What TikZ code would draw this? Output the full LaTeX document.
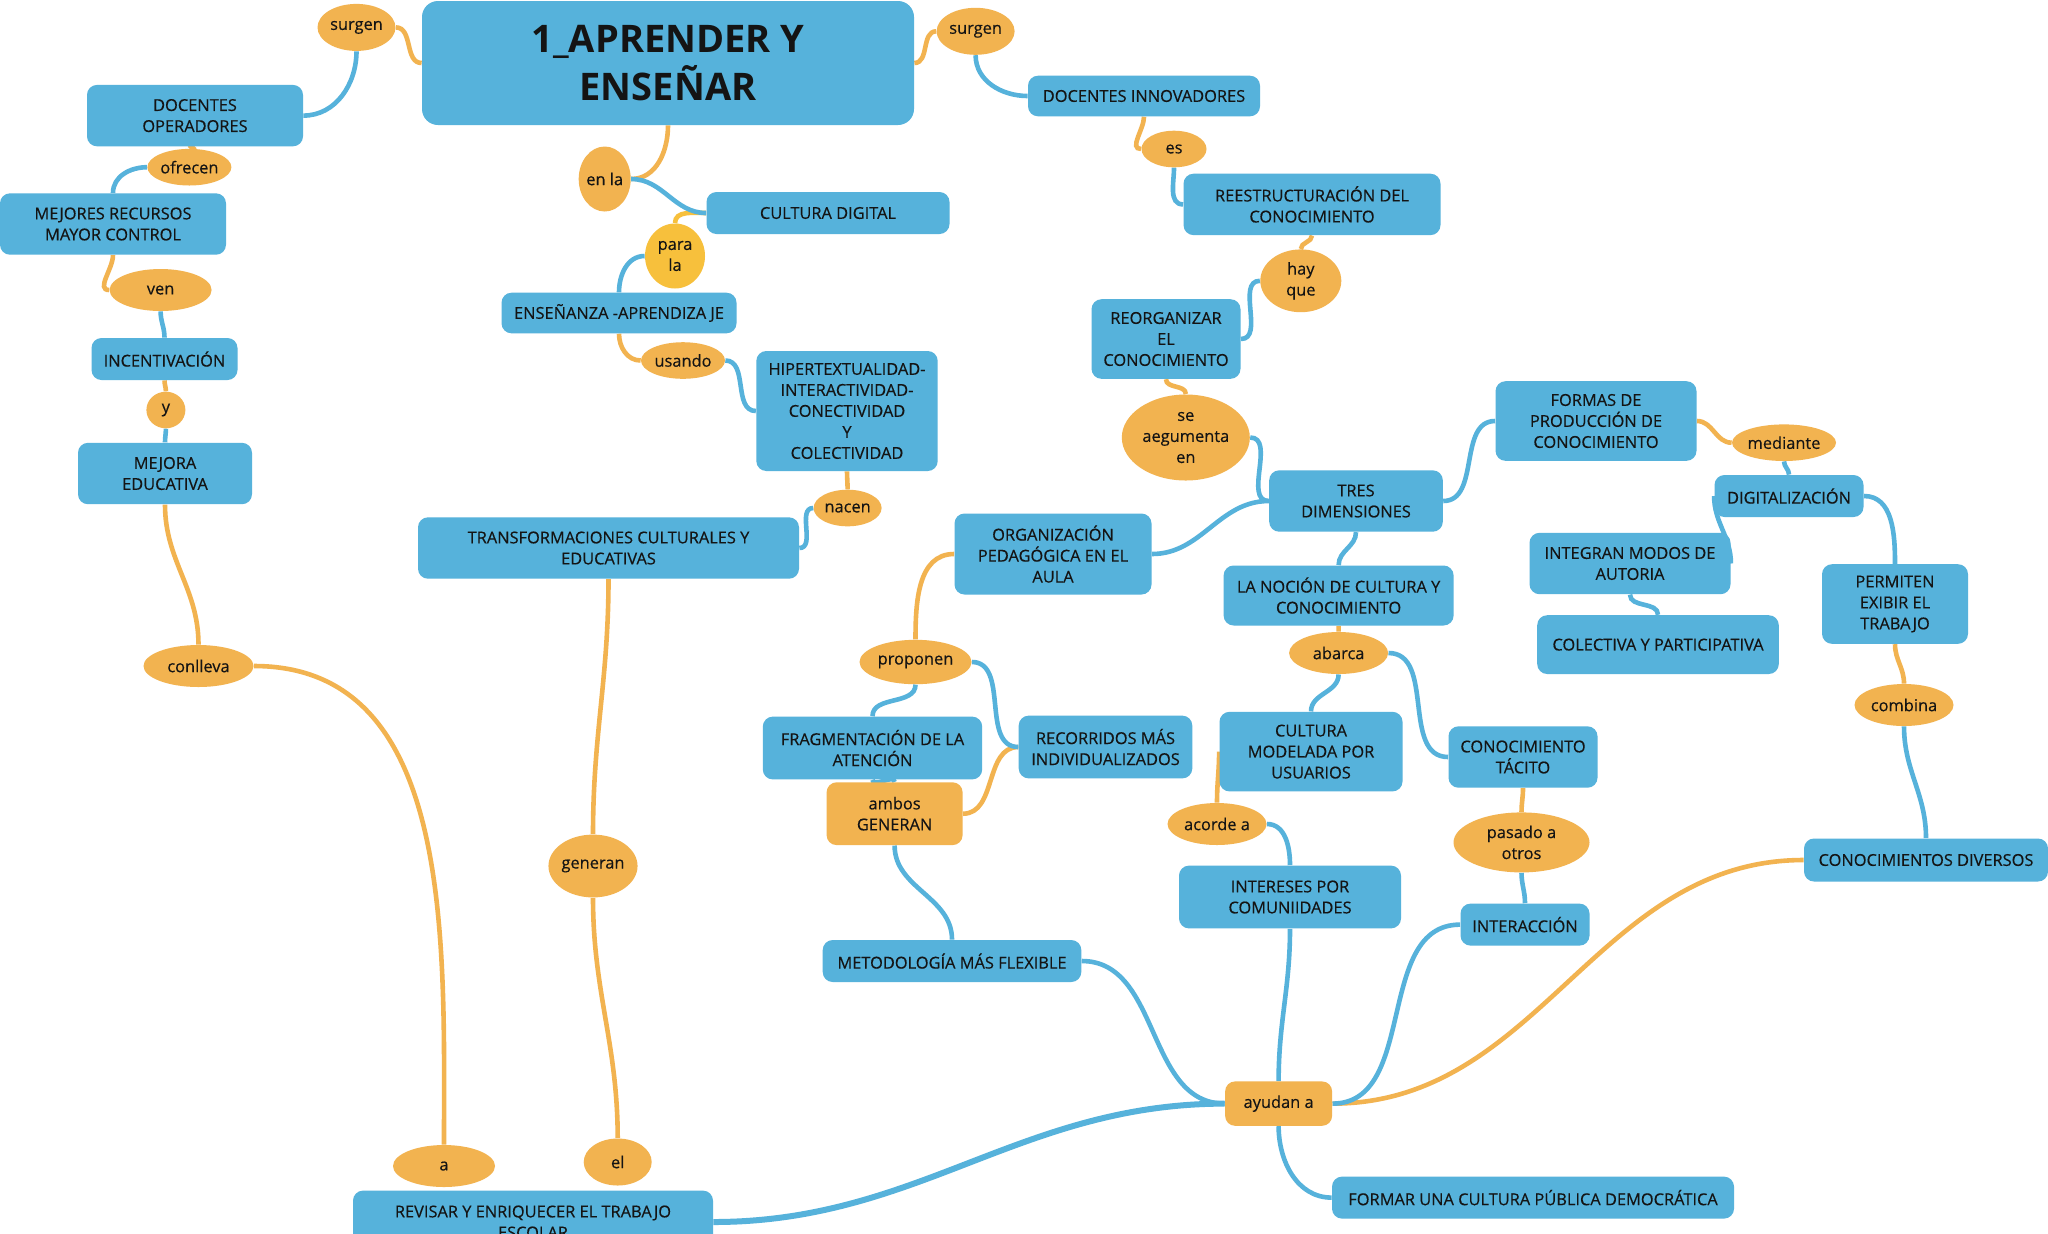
\documentclass[tikz,border=0pt]{standalone}
\usepackage{fontspec}
\setmainfont{Open Sans}
\newfontfamily\mapfamily{Open Sans}[FakeBold=0.35]
\usepackage{tikz}
\usetikzlibrary{shapes.geometric, backgrounds}

\definecolor{mapblue}{RGB}{86,178,219}
\definecolor{maporange}{RGB}{242,179,80}
\definecolor{mapyellow}{RGB}{247,192,60}
\definecolor{maptext}{RGB}{20,20,20}
\newcommand{\mapfont}{\mapfamily\fontsize{8.2}{10.5}\selectfont}
\newcommand{\titlefont}{\fontsize{19}{24}\selectfont\bfseries}

\tikzset{
    concept/.style={fill=mapblue, rounded corners=5pt, align=center, font=\mapfont, text=maptext, inner sep=1pt},
    link word/.style={ellipse, fill=maporange, align=center, font=\mapfont, text=maptext, inner sep=0pt},
    link box/.style={fill=maporange, rounded corners=5pt, align=center, font=\mapfont, text=maptext, inner sep=1pt},
    blue link/.style={draw=mapblue, line width=2.3pt},
    orange link/.style={draw=maporange, line width=2.3pt},
    size/.style 2 args={minimum width=#1pt, minimum height=#2pt},
}

\begin{document}
\begin{tikzpicture}[x=0.5pt, y=-0.5pt]
    \useasboundingbox (0,0) rectangle (2048,1233);

    % main topic
    \node[concept, size={246}{62}, font=\titlefont, rounded corners=8pt] (title) at (668,63) {1\_APRENDER Y\\ENSEÑAR};

    % left branch
    \node[link word, size={39}{23.5}] (surgen left) at (356.5,27.4) {surgen};
    \node[concept, size={108}{30.7}] (docentes operadores) at (195,115.6) {DOCENTES\\OPERADORES};
    \node[link word, size={42}{18.3}] (ofrecen) at (189.4,167.2) {ofrecen};
    \node[concept, size={113}{30.7}] (mejores recursos) at (113,224) {MEJORES RECURSOS\\MAYOR CONTROL};
    \node[link word, size={51}{21}] (ven) at (160.6,290) {ven};
    \node[concept, size={73}{21}] (incentivacion) at (164.5,359) {INCENTIVACIÓN};
    \node[link word, size={19.5}{18.3}] (y) at (165.9,410) {y};
    \node[concept, size={87}{30.7}] (mejora) at (165,473.5) {MEJORA\\EDUCATIVA};
    \node[link word, size={55}{21}] (conlleva) at (198.5,666) {conlleva};
    \node[link word, size={51}{21}] (a) at (444,1166) {a};
    \node[concept, size={180}{31.4}] (revisar) at (533,1222) {REVISAR Y ENRIQUECER EL TRABAJO\\ESCOLAR};

    % middle branch
    \node[link word, size={26}{32.5}] (en la) at (604.7,179) {en la};
    \node[concept, size={121.5}{21}] (cultura digital) at (828,213) {CULTURA DIGITAL};
    \node[link word, fill=mapyellow, size={30}{32.5}] (para la) at (675,256) {para\\la};
    \node[concept, size={117.5}{20.3}] (ensenanza) at (619,313) {ENSEÑANZA -APRENDIZA JE};
    \node[link word, size={42}{18.3}] (usando) at (683,360.5) {usando};
    \node[concept, size={90.7}{60}] (hiper) at (847,411) {HIPERTEXTUALIDAD-\\INTERACTIVIDAD-\\CONECTIVIDAD\\Y\\COLECTIVIDAD};
    \node[link word, size={34}{18.3}] (nacen) at (847.6,508) {nacen};
    \node[concept, size={190.5}{30.7}] (transformaciones) at (608.5,548) {TRANSFORMACIONES CULTURALES Y\\EDUCATIVAS};
    \node[link word, size={44.5}{31.4}] (generan) at (593,866) {generan};
    \node[link word, size={34}{23.5}] (el) at (617.7,1162) {el};

    % right branch
    \node[link word, size={39}{23.5}] (surgen right) at (975.6,31.3) {surgen};
    \node[concept, size={116}{20.3}] (docentes innovadores) at (1144,96) {DOCENTES INNOVADORES};
    \node[link word, size={32.5}{18.3}] (es) at (1174,149) {es};
    \node[concept, size={128.5}{30.7}] (reestructuracion) at (1312,204.4) {REESTRUCTURACIÓN DEL\\CONOCIMIENTO};
    \node[link word, size={40.5}{31.4}] (hay que) at (1300.8,280.8) {hay\\que};
    \node[concept, size={74.5}{39.8}] (reorganizar) at (1166,339) {REORGANIZAR\\EL\\CONOCIMIENTO};
    \node[link word, size={64}{43}] (se aumenta) at (1185.8,437.5) {se\\aegumenta\\en};
    \node[concept, size={86.8}{30.7}] (tres dimensiones) at (1356,501) {TRES\\DIMENSIONES};
    \node[concept, size={100.5}{39.8}] (formas) at (1596,421) {FORMAS DE\\PRODUCCIÓN DE\\CONOCIMIENTO};
    \node[link word, size={52}{18.3}] (mediante) at (1784,442.7) {mediante};
    \node[concept, size={74.5}{21}] (digitalizacion) at (1789,496) {DIGITALIZACIÓN};
    \node[concept, size={100.5}{30.7}] (integran) at (1630,563.5) {INTEGRAN MODOS DE\\AUTORIA};
    \node[concept, size={120.8}{29.4}] (colectiva) at (1658,644.6) {COLECTIVA Y PARTICIPATIVA};
    \node[concept, size={73}{39.8}] (permiten) at (1895,604) {PERMITEN\\EXIBIR EL\\TRABAJO};
    \node[link word, size={49.5}{21}] (combina) at (1904,705) {combina};
    \node[concept, size={122}{21.5}] (conocimientos diversos) at (1926,860) {CONOCIMIENTOS DIVERSOS};
    \node[concept, size={98.5}{40.5}] (organizacion) at (1053,554) {ORGANIZACIÓN\\PEDAGÓGICA EN EL\\AULA};
    \node[concept, size={115}{30}] (nocion) at (1338.6,595.5) {LA NOCIÓN DE CULTURA Y\\CONOCIMIENTO};
    \node[link word, size={49.5}{21}] (abarca) at (1338.6,653) {abarca};
    \node[concept, size={91.5}{39.8}] (cultura modelada) at (1311,751.6) {CULTURA\\MODELADA POR\\USUARIOS};
    \node[concept, size={74.5}{30.7}] (conocimiento tacito) at (1523,757) {CONOCIMIENTO\\TÁCITO};
    \node[link word, size={49.5}{21}] (acorde) at (1217,824) {acorde a};
    \node[concept, size={111}{31.4}] (intereses) at (1290,897) {INTERESES POR\\COMUNIIDADES};
    \node[link word, size={68}{30}] (pasado) at (1521.5,842.4) {pasado a\\otros};
    \node[concept, size={64.5}{21}] (interaccion) at (1525,924.6) {INTERACCIÓN};
    \node[link word, size={56}{22.2}] (proponen) at (915.5,662) {proponen};
    \node[concept, size={109.7}{31.4}] (fragmentacion) at (872.5,748) {FRAGMENTACIÓN DE LA\\ATENCIÓN};
    \node[concept, size={86.8}{31.4}] (recorridos) at (1105.5,747) {RECORRIDOS MÁS\\INDIVIDUALIZADOS};
    \node[link box, size={68}{31.4}] (ambos) at (894.6,813.7) {ambos\\GENERAN};
    \node[concept, size={129.3}{21}] (metodologia) at (952,961) {METODOLOGÍA MÁS FLEXIBLE};
    \node[link box, size={53.5}{22.2}] (ayudan) at (1278.6,1103.6) {ayudan a};
    \node[concept, size={201}{21}] (formar) at (1533,1197.6) {FORMAR UNA CULTURA PÚBLICA DEMOCRÁTICA};

    \begin{scope}[on background layer]
        \fill[white] (0,0) rectangle (2048,1233);
        % orange connectors
        \draw[orange link] (title.west) to[out=180, in=0] (surgen left.east)
            (docentes operadores.south) to[out=-90, in=90] (ofrecen.north)
            (mejores recursos.south) to[out=-90, in=180] (ven.west)
            (incentivacion.south) to[out=-90, in=90] (y.north)
            (mejora.south) to[out=-90, in=90] (conlleva.north)
            (conlleva.east) to[out=0, in=90] (a.north)
            (title.south) to[out=-90, in=0] (en la.east)
            (ensenanza.south) to[out=-90, in=180] (usando.west)
            (hiper.south) to[out=-90, in=90] (nacen.north)
            (transformaciones.south) to[out=-90, in=90] (generan.north)
            (generan.south) to[out=-90, in=90] (el.north)
            (title.east) to[out=0, in=180] (surgen right.west)
            (docentes innovadores.south) to[out=-90, in=180] (es.west)
            (reestructuracion.south) to[out=-90, in=90] (hay que.north)
            (reorganizar.south) to[out=-90, in=90] (se aumenta.north)
            (formas.east) to[out=0, in=180] (mediante.west)
            (permiten.south) to[out=-90, in=90] (combina.north)
            (nocion.south) to[out=-90, in=90] (abarca.north)
            (cultura modelada.west) to[out=-90, in=90] (acorde.north)
            (conocimiento tacito.south) to[out=-90, in=90] (pasado.north)
            (organizacion.west) to[out=180, in=90] (proponen.north)
            (recorridos.west) to[out=180, in=0] (ambos.east)
            (ayudan.east) to[out=0, in=180] (conocimientos diversos.west);
        \draw[orange link, draw=mapyellow] (cultura digital.west) to[out=180, in=90] (para la.north);
        % blue connectors
        \draw[blue link] (surgen left.south) to[out=-90, in=0] (docentes operadores.east)
            (ofrecen.west) to[out=180, in=90] (mejores recursos.north)
            (ven.south) to[out=-90, in=90] (incentivacion.north)
            (y.south) to[out=-90, in=90] (mejora.north)
            (en la.east) to[out=0, in=180] (cultura digital.west)
            (para la.west) to[out=180, in=90] (ensenanza.north)
            (usando.east) to[out=0, in=180] (hiper.west)
            (nacen.west) to[out=180, in=0] (transformaciones.east)
            (surgen right.south) to[out=-90, in=180] (docentes innovadores.west)
            (es.south) to[out=-90, in=180] (reestructuracion.west)
            (hay que.west) to[out=180, in=0] (reorganizar.east)
            (se aumenta.east) to[out=0, in=180] (tres dimensiones.west)
            (tres dimensiones.east) to[out=0, in=180] (formas.west)
            (mediante.south) to[out=-90, in=90] (digitalizacion.north)
            (digitalizacion.west) to[out=-90, in=90] (integran.east)
            (integran.south) to[out=-90, in=90] (colectiva.north)
            (digitalizacion.east) to[out=0, in=90] (permiten.north)
            (combina.south) to[out=-90, in=90] (conocimientos diversos.north)
            (tres dimensiones.west) to[out=180, in=0] (organizacion.east)
            (tres dimensiones.south) to[out=-90, in=90] (nocion.north)
            (abarca.south) to[out=-90, in=90] (cultura modelada.north)
            (abarca.east) to[out=0, in=180] (conocimiento tacito.west)
            (acorde.east) to[out=0, in=90] (intereses.north)
            (pasado.south) to[out=-90, in=90] (interaccion.north)
            (proponen.south) to[out=-90, in=90] (fragmentacion.north)
            (proponen.east) to[out=0, in=180] (recorridos.west)
            (fragmentacion.south) to[out=-90, in=90] (ambos.north)
            (ambos.south) to[out=-90, in=90] (metodologia.north)
            (metodologia.east) to[out=0, in=180] (ayudan.west)
            (intereses.south) to[out=-90, in=90] (ayudan.north)
            (interaccion.west) to[out=180, in=0] (ayudan.east)
            (ayudan.south) to[out=-90, in=180] (formar.west);
        \draw[blue link, line width=3pt] (ayudan.west) to[out=180, in=0] (revisar.east);
    \end{scope}
\end{tikzpicture}
\end{document}
